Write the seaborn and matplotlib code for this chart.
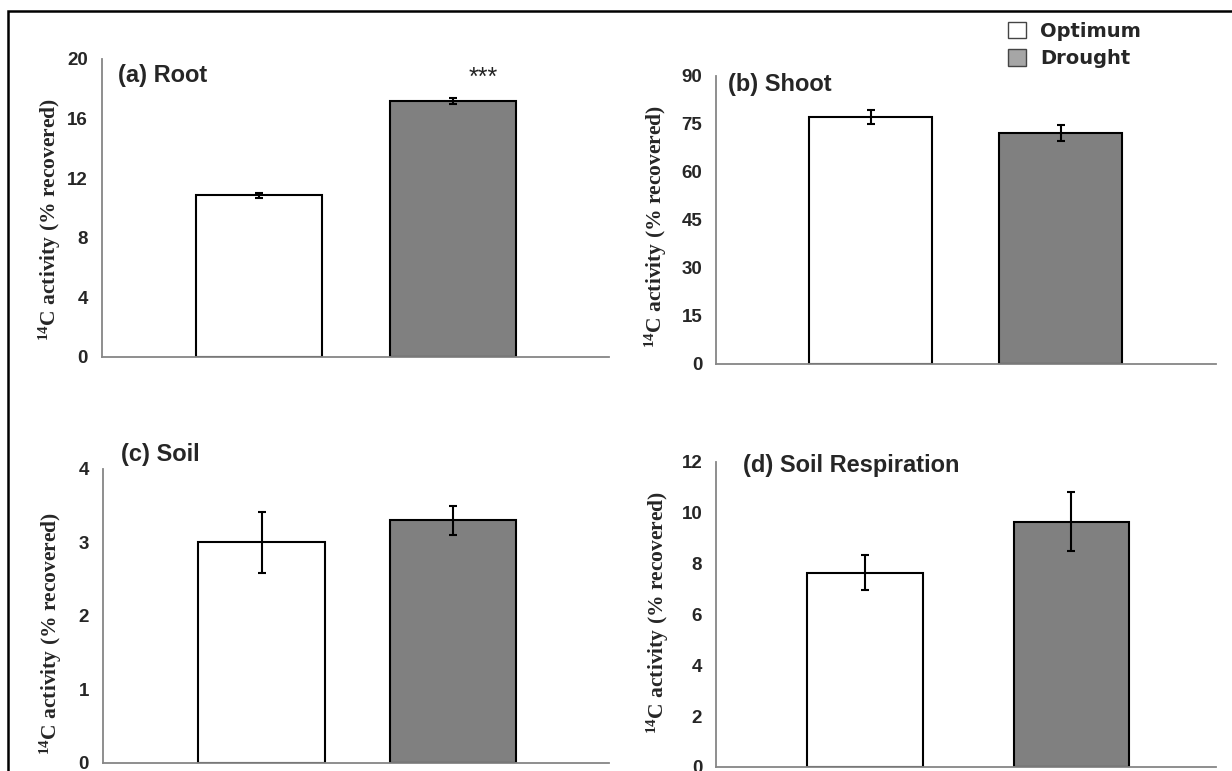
import matplotlib
matplotlib.use("Agg")
import matplotlib.pyplot as plt
from matplotlib.patches import Patch, Rectangle
import seaborn as sns
import pandas as pd

# data (% of recovered 14C, mean +/- error)
treatments = ["Optimum", "Drought"]
panel_titles = ["(a) Root", "(b) Shoot", "(c) Soil", "(d) Soil Respiration"]
root_mean = [10.85, 17.2]
root_err = [0.15, 0.2]
shoot_mean = [77.2, 72.2]
shoot_err = [2.1, 2.5]
soil_mean = [3.0, 3.3]
soil_err = [0.42, 0.2]
resp_mean = [7.65, 9.65]
resp_err = [0.7, 1.15]
y_ticks = [[0, 4, 8, 12, 16, 20], [0, 15, 30, 45, 60, 75, 90],
           [0, 1, 2, 3, 4], [0, 2, 4, 6, 8, 10, 12]]
signif_label = "***"

sns.set_style("white")
plt.rcParams["font.family"] = ["Liberation Sans", "DejaVu Sans"]
plt.rcParams["font.weight"] = "bold"
plt.rcParams["mathtext.fontset"] = "custom"
plt.rcParams["mathtext.rm"] = "Liberation Serif:bold"
plt.rcParams["mathtext.default"] = "rm"

bar_colors = ["#ffffff", "#808080"]
axis_grey = "#868686"

fig = plt.figure(figsize=(12.32, 7.71), dpi=100)

# axes boxes [left, bottom, width, height], x-limits, bar width, title pos, ylabel pos
layout = [
    ([0.0828, 0.537, 0.4115, 0.3865], (-0.809, 1.804), 0.65, (0.032, 0.946), (-0.077, 0.46)),
    ([0.5812, 0.528, 0.4058, 0.3735], (-0.813, 1.818), 0.65, (0.024, 0.969), (-0.094, 0.476)),
    ([0.0836, 0.0104, 0.4107, 0.3813], (-0.828, 1.815), 0.66, (0.036, 1.048), (-0.077, 0.44)),
    ([0.5812, 0.0052, 0.4058, 0.3956], (-0.72, 1.70), 0.56, (0.054, 0.99), (-0.09, 0.505)),
]
means = [root_mean, shoot_mean, soil_mean, resp_mean]
errs = [root_err, shoot_err, soil_err, resp_err]

for i in range(4):
    box, xlim, bw, tpos, lpos = layout[i]
    ax = fig.add_axes(box)
    df = pd.DataFrame({"treatment": treatments, "value": means[i]})
    sns.barplot(data=df, x="treatment", y="value", hue="treatment", order=treatments,
                palette=bar_colors, width=bw, edgecolor="black", linewidth=1.5,
                errorbar=None, legend=False, ax=ax)
    ax.errorbar(x=[0, 1], y=means[i], yerr=errs[i], fmt="none", ecolor="black",
                elinewidth=1.5, capsize=3.2, capthick=1.5)

    ax.set_xlim(xlim)
    ax.set_ylim(y_ticks[i][0], y_ticks[i][-1])
    ax.set_yticks(y_ticks[i])
    ax.set_xticks(list(xlim))
    ax.set_xticklabels([])
    ax.set_xlabel("")
    for s in ["top", "right"]:
        ax.spines[s].set_visible(False)
    for s in ["left", "bottom"]:
        ax.spines[s].set_color(axis_grey)
        ax.spines[s].set_linewidth(1.3)
    ax.tick_params(axis="both", direction="out", length=4, width=1.3, color=axis_grey,
                   labelsize=13.5, pad=6)
    for lab in ax.get_yticklabels():
        lab.set_fontweight("bold")

    ax.set_ylabel(r"$^{14}$C activity (% recovered)", fontfamily="Liberation Serif",
                  fontweight="bold", fontsize=15.5)
    ax.yaxis.set_label_coords(lpos[0], lpos[1])
    ax.text(tpos[0], tpos[1], panel_titles[i], transform=ax.transAxes, ha="left",
            va="center", fontsize=17, fontweight="bold")

    if i == 0:
        ax.text(1.155, 18.7, signif_label, ha="center", va="center", fontsize=18,
                fontweight="normal", color="#222222")

handles = [Patch(facecolor="#ffffff", edgecolor="#444444", linewidth=1),
           Patch(facecolor="#a6a6a6", edgecolor="#444444", linewidth=1)]
fig.legend(handles, treatments, loc="upper left", bbox_to_anchor=(0.818, 0.972),
           frameon=False, borderpad=0, borderaxespad=0, handlelength=0.95,
           handleheight=0.95, handletextpad=0.7, labelspacing=0.45,
           prop={"family": "DejaVu Sans", "weight": "bold", "size": 14})

# frame around the whole figure (cut off at right and bottom in the original)
fig.patches.append(Rectangle((8 / 1232, -0.1), 1.2, 0.1 + 1 - 11 / 771, fill=False,
                             edgecolor="black", linewidth=1.8,
                             transform=fig.transFigure, clip_on=False))

fig.savefig("out.png", dpi=100)
